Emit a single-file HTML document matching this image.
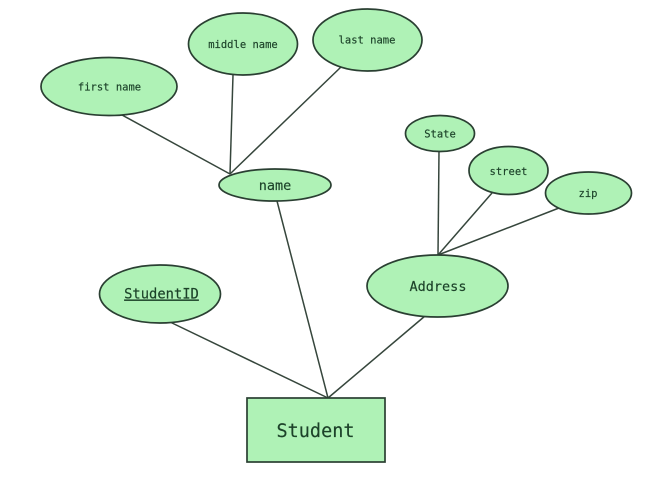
<!DOCTYPE html>
<html>
<head>
<meta charset="utf-8">
<style>
html,body{margin:0;padding:0;background:#fff;width:660px;height:477px;overflow:hidden}
svg{display:block;filter:blur(.35px)}
text{font-family:"DejaVu Sans Mono","Liberation Mono",monospace;fill:#1c4229;text-anchor:middle;stroke:#1c4229;stroke-width:.15}
.s{stroke:#2a3f32;stroke-width:1.7;fill:#aff2b6}
.l{stroke:#36463c;stroke-width:1.5;fill:none}
</style>
</head>
<body>
<svg width="660" height="477" viewBox="0 0 660 477" xmlns="http://www.w3.org/2000/svg">
<g class="l">
<line x1="122" y1="115" x2="230" y2="174"/>
<line x1="233" y1="75" x2="230" y2="174"/>
<line x1="341" y1="67" x2="230" y2="174"/>
<line x1="277" y1="201" x2="328" y2="398"/>
<line x1="170" y1="322" x2="328" y2="398"/>
<line x1="425" y1="316" x2="328" y2="398"/>
<line x1="439" y1="151" x2="438" y2="255"/>
<line x1="492" y1="193" x2="438" y2="255"/>
<line x1="559" y1="208" x2="438" y2="255"/>
</g>
<ellipse class="s" cx="109" cy="86.500" rx="68" ry="29"/>
<ellipse class="s" cx="243" cy="44" rx="54.500" ry="31"/>
<ellipse class="s" cx="367.500" cy="40" rx="54.500" ry="31"/>
<ellipse class="s" cx="275" cy="185" rx="56" ry="16"/>
<ellipse class="s" cx="440" cy="133.500" rx="34.500" ry="18"/>
<ellipse class="s" cx="508.500" cy="170.500" rx="39.500" ry="24"/>
<ellipse class="s" cx="588.500" cy="193" rx="43" ry="21"/>
<ellipse class="s" cx="437.500" cy="286" rx="70.500" ry="31"/>
<ellipse class="s" cx="160" cy="294" rx="60.500" ry="29"/>
<rect class="s" x="247" y="398" width="138" height="64"/>
<text x="109.500" y="90.500" font-size="10.500">first name</text>
<text x="243" y="48" font-size="10.500">middle name</text>
<text x="367" y="43.500" font-size="10.500">last name</text>
<text x="275" y="190" font-size="13.500">name</text>
<text x="440" y="137.500" font-size="10.500">State</text>
<text x="508.500" y="175" font-size="10.500">street</text>
<text x="588" y="197" font-size="10.500">zip</text>
<text x="438" y="291" font-size="13.500">Address</text>
<text x="161.500" y="298.500" font-size="13.800" text-decoration="underline">StudentID</text>
<text x="315.500" y="437" font-size="18.500">Student</text>
</svg>
</body>
</html>
